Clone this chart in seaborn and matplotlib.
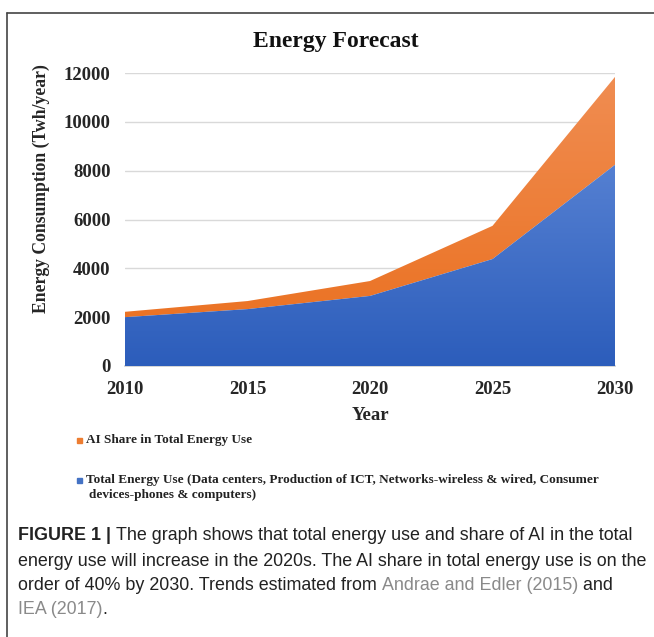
import numpy as np
import matplotlib
matplotlib.use("Agg")
import matplotlib.pyplot as plt
import seaborn as sns
from matplotlib.patches import Rectangle

# data
years = [2010, 2015, 2020, 2025, 2030]
total_use = [2000, 2330, 2870, 4380, 8240]
ai_share = [220, 330, 610, 1360, 3600]
y_ticks = [0, 2000, 4000, 6000, 8000, 10000, 12000]
x_ticks = [2010, 2015, 2020, 2025, 2030]

sns.set_theme(style="white")
plt.rcParams['font.family'] = ['Liberation Serif', 'DejaVu Serif']

W, H = 654, 637
fig = plt.figure(figsize=(W / 100, H / 100), dpi=100)
ax = fig.add_axes([125 / W, 1 - 366 / H, 490 / W, 293 / H])

top_use = np.array(total_use) + np.array(ai_share)


def gradient_fill(ax, x, y1, y2, c_top, c_bot, ymax):
    poly = ax.fill_between(x, y1, y2, color=c_bot, linewidth=0, zorder=2)
    grad = np.linspace(0, 1, 256)[:, None]
    cols = np.array([matplotlib.colors.to_rgb(c_bot), matplotlib.colors.to_rgb(c_top)])
    img = cols[0] + (cols[1] - cols[0]) * grad
    im = ax.imshow(img[:, None, :].repeat(2, axis=1), origin="lower", aspect="auto",
                   extent=[x[0], x[-1], 0, ymax], zorder=3)
    path = poly.get_paths()[0]
    im.set_clip_path(path, transform=ax.transData)
    poly.set_alpha(0)


gradient_fill(ax, years, total_use, top_use, "#f08d52", "#ea6e1c", max(top_use))
gradient_fill(ax, years, 0, total_use, "#5580d2", "#2c5dbb", max(total_use))

ax.set_xlim(2010, 2030)
ax.set_ylim(0, 12000)
ax.set_yticks(y_ticks)
ax.set_xticks(x_ticks)
ax.yaxis.grid(True, color="#d9d9d9", linewidth=1, zorder=0)
ax.set_axisbelow(True)
for s in ["top", "right", "left"]:
    ax.spines[s].set_visible(False)
ax.spines["bottom"].set_color("#d0d0d0")
ax.tick_params(axis="x", length=5, color="#d0d0d0", pad=6, labelsize=13.5)
ax.tick_params(axis="y", length=0, pad=10.5, labelsize=13.5)
for lab in ax.get_xticklabels() + ax.get_yticklabels():
    lab.set_fontweight("bold")
ax.set_xlabel("Year", fontsize=13.5, fontweight="bold", labelpad=6)
ax.set_ylabel("Energy Consumption (Twh/year)", fontsize=12.7, fontweight="bold")
ax.yaxis.set_label_coords((50 - 125) / 490, (366 - 189) / 293)
fig.text(336 / W, 1 - 42 / H, "Energy Forecast", fontsize=17, fontweight="bold",
         ha="center", va="center", color="#111111")

# legend below the plot
fig.patches.append(Rectangle((77 / W, 1 - 443 / H), 5 / W, 5 / H, color="#ed7d31",
                             transform=fig.transFigure, figure=fig))
fig.patches.append(Rectangle((77 / W, 1 - 483 / H), 5 / W, 5 / H, color="#4472c4",
                             transform=fig.transFigure, figure=fig))
fig.text(86 / W, 1 - 440 / H, "AI Share in Total Energy Use", fontsize=9.5,
         fontweight="bold", va="center", color="#222222")
fig.text(86 / W, 1 - 480 / H,
         "Total Energy Use (Data centers, Production of ICT, Networks-wireless & wired, Consumer",
         fontsize=9.5, fontweight="bold", va="center", color="#222222")
fig.text(89 / W, 1 - 495 / H, "devices-phones & computers)", fontsize=9.5,
         fontweight="bold", va="center", color="#222222")

# frame lines
fig.add_artist(plt.Line2D([7 / W, 1], [1 - 13 / H, 1 - 13 / H], color="#444444", lw=1.2))
fig.add_artist(plt.Line2D([7 / W, 7 / W], [1 - 13 / H, 0], color="#444444", lw=1.2))

# caption
cap_font = ['Liberation Sans', 'DejaVu Sans']
cap_size = 12.9
fig.canvas.draw()
renderer = fig.canvas.get_renderer()


def write_pieces(pieces, x0, y0):
    x = x0
    for txt, weight, color in pieces:
        t = fig.text(x / W, 1 - y0 / H, txt, fontsize=cap_size, fontweight=weight,
                     color=color, family=cap_font, va="center")
        x += t.get_window_extent(renderer).width


dark = "#222222"
grey = "#8a8a8a"
write_pieces([("FIGURE 1 | ", "bold", dark),
              ("The graph shows that total energy use and share of AI in the total", "normal", dark)], 18, 536)
write_pieces([("energy use will increase in the 2020s. The AI share in total energy use is on the", "normal", dark)], 18, 561)
write_pieces([("order of 40% by 2030. Trends estimated from ", "normal", dark),
              ("Andrae and Edler (2015)", "normal", grey),
              (" and", "normal", dark)], 18, 585)
write_pieces([("IEA (2017)", "normal", grey), (".", "normal", dark)], 18, 609)

fig.savefig("out.png", dpi=100)
